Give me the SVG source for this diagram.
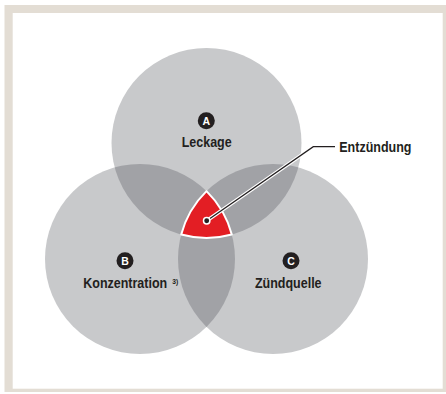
<svg xmlns="http://www.w3.org/2000/svg" width="446" height="394" viewBox="0 0 446 394">
<style>
.circ{fill:#c8c9cb}
.lens{fill:#a1a2a6}
.lbl{font-family:"Liberation Sans",Arial,sans-serif;font-weight:bold;font-size:14.5px;fill:#231f20}
.sup{font-size:7.8px}
.badge{fill:#231f20}
.btxt{font-family:"Liberation Sans",Arial,sans-serif;font-weight:bold;font-size:10.5px;fill:#ffffff;text-anchor:middle}
</style>
<defs>
<clipPath id="clipA"><circle cx="206.5" cy="143" r="95"/></clipPath>
<clipPath id="clipB"><circle cx="140" cy="259" r="95"/></clipPath>
</defs>
<rect x="4.5" y="5" width="445" height="387" fill="#e3ddd4"/>
<rect x="12.7" y="13" width="430" height="375.7" fill="#ffffff"/>
<g id="circle-A"><circle class="circ" cx="206.5" cy="143" r="95"/></g>
<g id="circle-B"><circle class="circ" cx="140" cy="259" r="95"/></g>
<g id="circle-C"><circle class="circ" cx="273" cy="259" r="95"/></g>
<g id="overlaps">
<circle class="lens" cx="140" cy="259" r="95" clip-path="url(#clipA)"/>
<circle class="lens" cx="273" cy="259" r="95" clip-path="url(#clipA)"/>
<circle class="lens" cx="273" cy="259" r="95" clip-path="url(#clipB)"/>
</g>
<g id="entzuendung-area">
<path d="M206.5 191.16 A95 95 0 0 0 181.2 234.56 A95 95 0 0 0 231.8 234.56 A95 95 0 0 0 206.5 191.16 Z" fill="#e31e24" stroke="#ffffff" stroke-width="2" stroke-linejoin="round"/>
</g>
<g id="connectors">
<polyline points="206.7,220.7 313.3,146.7 335,146.7" fill="none" stroke="#ffffff" stroke-width="3.6"/>
<polyline points="206.7,220.7 313.3,146.7 335,146.7" fill="none" stroke="#231f20" stroke-width="1.3"/>
<circle cx="206.7" cy="220.7" r="3.2" fill="#231f20" stroke="#ffffff" stroke-width="1.5"/>
</g>
<g id="label-A">
<circle class="badge" cx="206.3" cy="120.7" r="8.5"/>
<text class="btxt" x="206.3" y="124.5">A</text>
<text class="lbl" transform="translate(181.7 147.2) scale(0.862 1)" x="0" y="0">Leckage</text>
</g>
<g id="label-B">
<circle class="badge" cx="125" cy="260.7" r="8.5"/>
<text class="btxt" x="125" y="264.5">B</text>
<text class="lbl" transform="translate(83.3 287.7) scale(0.862 1)"><tspan x="0" y="0">Konzentration</tspan><tspan class="sup" x="103.2" y="-4.1">3)</tspan></text>
</g>
<g id="label-C">
<circle class="badge" cx="291" cy="260.7" r="8.5"/>
<text class="btxt" x="291" y="264.5">C</text>
<text class="lbl" transform="translate(255 287.7) scale(0.862 1)" x="0" y="0">Zündquelle</text>
</g>
<g id="label-Entzuendung">
<text class="lbl" transform="translate(339.3 151.7) scale(0.862 1)" x="0" y="0">Entzündung</text>
</g>
</svg>
